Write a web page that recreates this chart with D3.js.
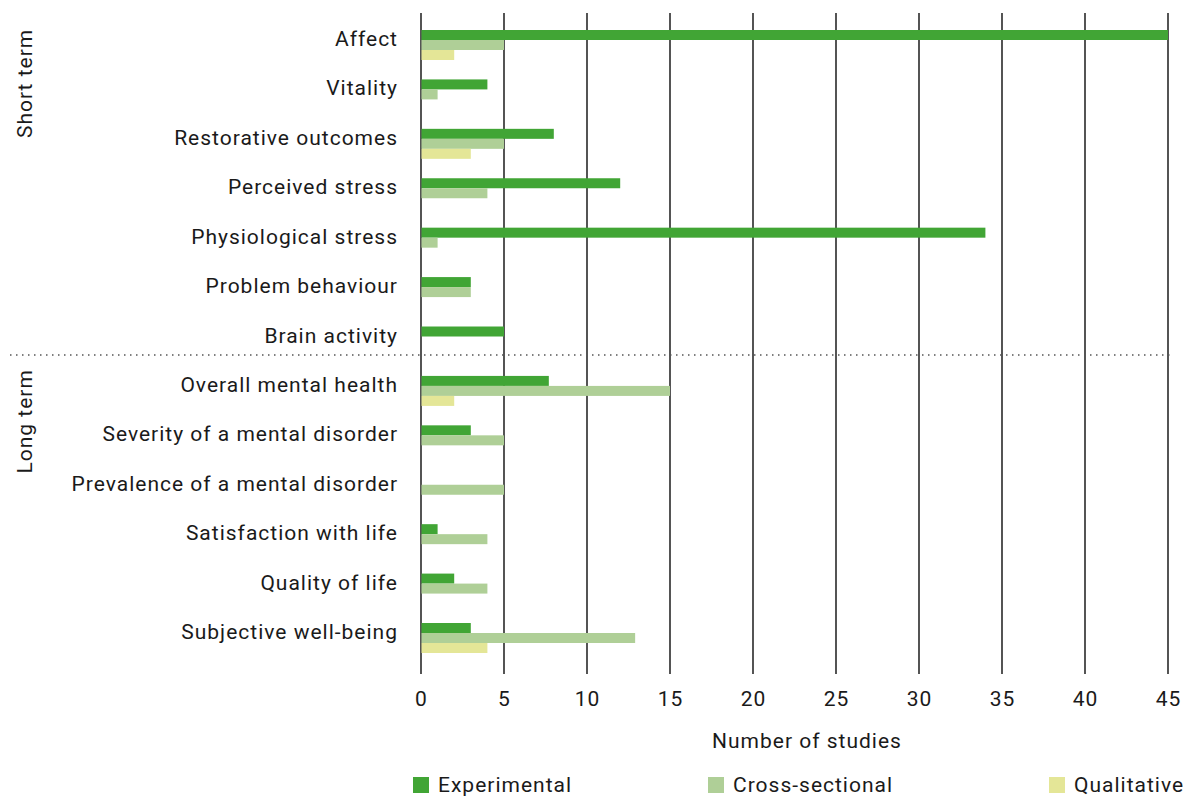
<meta charset="utf-8" />
<script src="https://d3js.org/d3.v7.min.js"></script>
<style>
  body { margin: 0; background: #fff; }
  text { font-family: Roboto, "DejaVu Sans", sans-serif; fill: #1a1a1a; letter-spacing: 1px; }
</style>
<div id="chart"></div>
<script>
  // outcome categories, top to bottom
  const categories = [
    'Affect', 'Vitality', 'Restorative outcomes', 'Perceived stress',
    'Physiological stress', 'Problem behaviour', 'Brain activity',
    'Overall mental health', 'Severity of a mental disorder',
    'Prevalence of a mental disorder', 'Satisfaction with life',
    'Quality of life', 'Subjective well-being'
  ];
  const seriesNames = ['Experimental', 'Cross-sectional', 'Qualitative'];
  const experimental = [45, 4, 8, 12, 34, 3, 5, 7.7, 3, 0, 1, 2, 3];
  const crossSectional = [5, 1, 5, 4, 1, 3, 0, 15, 5, 5, 4, 4, 12.9];
  const qualitative = [2, 0, 3, 0, 0, 0, 0, 2, 0, 0, 0, 0, 4];
  const xTicks = [0, 5, 10, 15, 20, 25, 30, 35, 40, 45];
  const groups = ['Short term', 'Long term'];

  const colors = { 'Experimental': '#41a535', 'Cross-sectional': '#afcf97', 'Qualitative': '#e4e697' };
  const fs = 21;

  const W = 1192, H = 800;
  const svg = d3.select('#chart').append('svg').attr('width', W).attr('height', H);

  const x = d3.scaleLinear().domain([0, 45]).range([421, 1168]);
  const y = d3.scaleBand().domain(categories).range([30, 653]).paddingInner(0.393).paddingOuter(0);
  const ySub = d3.scaleBand().domain(seriesNames).range([0, y.bandwidth()]);

  const rows = categories.map((c, i) => ({
    cat: c,
    values: [
      { s: 'Experimental', v: experimental[i] },
      { s: 'Cross-sectional', v: crossSectional[i] },
      { s: 'Qualitative', v: qualitative[i] }
    ]
  }));

  // vertical gridlines
  const plotTop = 13, plotBottom = 674;
  svg.append('g').selectAll('line').data(xTicks).join('line')
    .attr('x1', d => x(d)).attr('x2', d => x(d))
    .attr('y1', plotTop).attr('y2', plotBottom)
    .attr('stroke', '#2a2a2a').attr('stroke-width', 1.6);

  // bars
  svg.append('g').selectAll('g').data(rows).join('g')
    .attr('transform', d => `translate(0,${y(d.cat)})`)
    .selectAll('rect').data(d => d.values.filter(v => v.v > 0)).join('rect')
    .attr('x', x(0) + 0.5)
    .attr('y', d => ySub(d.s))
    .attr('width', d => x(d.v) - x(0) - 0.5)
    .attr('height', ySub.bandwidth())
    .attr('fill', d => colors[d.s]);

  // category labels
  svg.append('g').selectAll('text').data(categories).join('text')
    .attr('x', 398).attr('y', d => y(d) + 16)
    .attr('text-anchor', 'end').attr('font-size', fs)
    .text(d => d);

  // x tick labels
  const xAxis = d3.axisBottom(x).tickValues(xTicks).tickSize(0).tickPadding(0);
  const gx = svg.append('g').attr('transform', 'translate(0,706)').call(xAxis);
  gx.select('.domain').remove();
  gx.selectAll('text').attr('font-size', fs).attr('dy', 0)
    .style('font-family', 'Roboto, sans-serif').attr('fill', '#1a1a1a');

  svg.append('text').attr('x', 807).attr('y', 748).attr('text-anchor', 'middle')
    .attr('font-size', fs).text('Number of studies');

  // separator between short and long term
  const sepY = y('Overall mental health') - 21;
  svg.append('line').attr('x1', 10).attr('x2', 1170).attr('y1', sepY).attr('y2', sepY)
    .attr('stroke', '#555').attr('stroke-width', 1.5).attr('stroke-dasharray', '1.5,4.5');

  // group labels (rotated)
  const groupCenters = { 'Short term': y('Vitality') + 4, 'Long term': y('Severity of a mental disorder') - 4 };
  svg.append('g').selectAll('text').data(groups).join('text')
    .attr('transform', d => `translate(32,${groupCenters[d]}) rotate(-90)`)
    .attr('text-anchor', 'middle').attr('font-size', fs)
    .text(d => d);

  // legend
  const legendX = { 'Experimental': 413, 'Cross-sectional': 708, 'Qualitative': 1049 };
  const lg = svg.append('g').selectAll('g').data(seriesNames).join('g')
    .attr('transform', d => `translate(${legendX[d]},777)`);
  lg.append('rect').attr('width', 16).attr('height', 16).attr('fill', d => colors[d]);
  lg.append('text').attr('x', 25).attr('y', 15).attr('font-size', fs).text(d => d);
</script>
